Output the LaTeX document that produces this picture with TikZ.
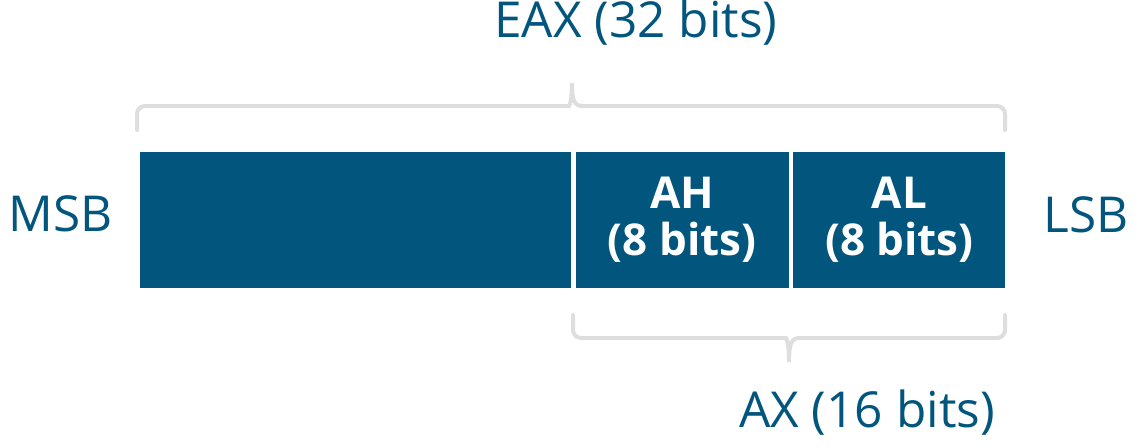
\documentclass[tikz,border=0pt]{standalone}
\usepackage{fontspec}
\setmainfont{Open Sans}
\usetikzlibrary{positioning}
\definecolor{regblue}{HTML}{02567E}
\definecolor{bracegray}{HTML}{DEDEDE}
\tikzset{
  regbox/.style={fill=regblue, text=white, inner sep=0pt, minimum height=2.74cm,
    align=center, font=\bfseries\fontsize{25}{26.7}\selectfont},
  reglabel/.style={text=regblue, inner sep=0pt, anchor=base, font=\fontsize{28.2}{30}\selectfont},
  bracket/.style={draw=bracegray, line width=0.08cm, line cap=round}
}
\begin{document}
\begin{tikzpicture}[x=0.02cm,y=-0.02cm]
      \useasboundingbox (0,0) rectangle (1141,447);
      % register boxes
      \node[regbox, minimum width=8.62cm] (eaxhi) at (355.5,220) {};
      \node[regbox, minimum width=4.26cm, right=0.08cm of eaxhi] (ah) {AH\\(8 bits)};
      \node[regbox, minimum width=4.24cm, right=0.08cm of ah] (al) {AL\\(8 bits)};
      % braces
      \coordinate (eaxleft) at (137,130);
      \coordinate (eaxtip) at (572,83);
      \coordinate (eaxright) at (1005,130);
      \draw[bracket] (eaxleft) [rounded corners=0.16cm] -- (137,106) -- (561,106) [sharp corners]
        .. controls (569,106) and (572,102) .. (eaxtip)
        .. controls (572,102) and (575,106) .. (583,106) [rounded corners=0.16cm] -- (1005,106) -- (eaxright);
      \coordinate (axleft) at (573,315);
      \coordinate (axtip) at (789,362);
      \coordinate (axright) at (1005,315);
      \draw[bracket] (axleft) [rounded corners=0.16cm] -- (573,338) -- (778,338) [sharp corners]
        .. controls (786,338) and (789,342) .. (axtip)
        .. controls (789,342) and (792,338) .. (800,338) [rounded corners=0.16cm] -- (1005,338) -- (axright);
      % labels
      \node[reglabel] (eaxlabel) at (636,37) {EAX (32 bits)};
      \node[reglabel] (axlabel) at (867,427) {AX (16 bits)};
      \node[reglabel] (msb) at (61,231) {MSB};
      \node[reglabel] (lsb) at (1086,232) {LSB};
\end{tikzpicture}
\end{document}
